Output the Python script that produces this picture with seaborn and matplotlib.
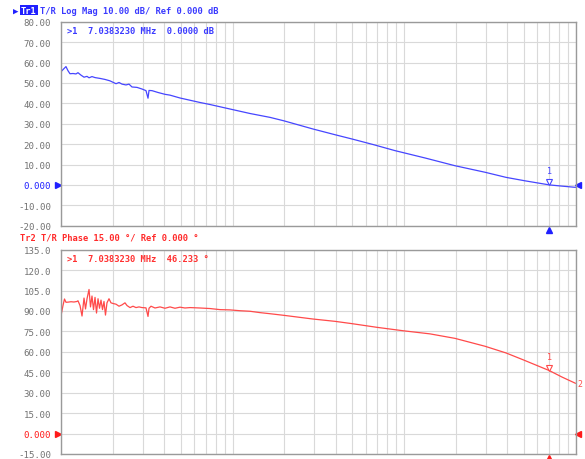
import numpy as np
import pandas as pd
import seaborn as sns
import matplotlib
matplotlib.use("Agg")
from matplotlib import pyplot as plt
from matplotlib.transforms import offset_copy

# ============================================================
# DATA (frequency in kHz)
# ============================================================
mag_freq_khz = [10.0, 10.27, 10.69, 10.98, 11.28, 11.75, 12.23, 12.56, 13.08, 13.62,
                14.18, 14.57, 15.16, 15.79, 16.88, 18.05, 19.31, 20.10, 20.93, 21.79,
                22.69, 23.93, 24.92, 25.94, 27.75, 29.67, 31.30, 32.16, 32.60, 33.94,
                36.79, 40.41, 43.21, 49.42, 56.52, 64.65, 73.94, 96.7, 126.5, 165.5,
                199.6, 294.7, 396.0, 497.6, 659.6, 886.1, 1326, 1983, 2968, 3933,
                5077, 7038.3, 8342, 10000]
mag_db = [55.5, 56.5, 58.0, 56.0, 54.5, 54.6, 54.4, 55.0, 53.8, 52.8,
          53.2, 52.5, 53.1, 52.6, 52.2, 51.7, 51.0, 50.3, 49.6, 50.2,
          49.4, 49.0, 49.4, 48.0, 47.8, 47.0, 46.2, 42.5, 46.3, 46.2,
          45.3, 44.4, 44.0, 42.6, 41.5, 40.4, 39.4, 37.2, 35.0, 33.1,
          31.4, 27.4, 24.6, 22.5, 19.8, 16.8, 13.2, 9.4, 6.2, 3.7,
          2.0, 0.0, -0.6, -1.2]

phase_freq_khz = [10.0, 10.27, 10.48, 10.69, 10.98, 11.44, 11.90, 12.40, 12.56, 12.91,
                  13.26, 13.62, 13.90, 14.18, 14.57, 14.86, 15.16, 15.47, 15.79, 16.11,
                  16.44, 16.77, 17.11, 17.46, 17.81, 18.17, 18.54, 19.05, 19.56, 20.10,
                  20.93, 21.79, 22.69, 23.61, 24.26, 25.26, 26.29, 27.37, 28.50, 29.67,
                  31.30, 32.16, 32.60, 33.49, 35.33, 37.79, 40.41, 43.21, 46.20, 49.42,
                  52.84, 56.52, 64.65, 73.94, 84.56, 96.7, 110.6, 126.5, 144.7, 165.5,
                  199.6, 294.7, 396.0, 497.6, 695.9, 986.8, 1418, 1983, 2968, 3933,
                  4943, 7038.3, 8342, 10000]
phase_deg = [86.5, 94.0, 98.8, 96.4, 96.5, 96.8, 96.6, 97.0, 97.5, 94.0,
             86.3, 99.5, 91.5, 99.0, 105.8, 93.0, 101.0, 91.0, 100.0, 88.5,
             99.0, 92.0, 98.0, 91.0, 97.0, 87.0, 96.0, 99.0, 96.0, 95.5,
             95.0, 93.5, 94.5, 96.0, 94.0, 92.5, 93.5, 92.5, 93.0, 92.5,
             92.3, 86.0, 92.0, 93.5, 92.2, 93.0, 92.0, 93.0, 92.0, 92.8,
             92.2, 92.5, 92.2, 91.8, 91.0, 90.8, 90.2, 89.8, 88.8, 88.0,
             86.8, 84.1, 82.4, 80.7, 78.0, 75.5, 73.2, 69.9, 64.1, 59.2,
             54.2, 46.233, 41.5, 36.9]

mag_ticks = [80, 70, 60, 50, 40, 30, 20, 10, 0, -10, -20]
mag_labels = ["80.00", "70.00", "60.00", "50.00", "40.00", "30.00", "20.00",
              "10.00", "0.000", "-10.00", "-20.00"]
phase_ticks = [135, 120, 105, 90, 75, 60, 45, 30, 15, 0, -15]
phase_labels = ["135.0", "120.0", "105.0", "90.00", "75.00", "60.00", "45.00",
                "30.00", "15.00", "0.000", "-15.00"]

marker_khz = 7038.3
marker_mag = 0.0
marker_phase = 46.233

BLUE = "#4646ff"
RED = "#ff4a4a"
GRID = "#d9d9d9"
SPINE = "#9a9a9a"
TICK = "#737373"

sns.set_style("white")
plt.rcParams['font.family'] = ['DejaVu Sans Mono', 'DejaVu Sans']

mag_df = pd.DataFrame({"freq": mag_freq_khz, "value": mag_db})
phase_df = pd.DataFrame({"freq": phase_freq_khz, "value": phase_deg})

fig = plt.figure(figsize=(5.85, 4.6), dpi=100)
ax1 = fig.add_axes([61 / 585, 1 - 226.7 / 460, 514.5 / 585, 204 / 460])
ax2 = fig.add_axes([61 / 585, 1 - 455 / 460, 514.5 / 585, 204.3 / 460])


def style_axis(ax, ticks, labels, ref_color, lo, hi):
    ax.set_xscale("log")
    ax.set_xlim(10, 10000)
    ax.set_ylim(lo, hi)
    ax.set_yticks(ticks)
    ax.set_yticklabels(labels)
    ax.set_xlabel("")
    ax.set_ylabel("")
    ax.tick_params(axis="both", which="both", length=0)
    ax.tick_params(axis="y", pad=7, labelsize=6.6, labelcolor=TICK)
    ax.tick_params(axis="x", labelbottom=False)
    for lab in ax.get_yticklabels():
        if lab.get_text() == "0.000":
            lab.set_color(ref_color)
    ax.grid(True, which="both", color=GRID, linewidth=0.8)
    ax.set_axisbelow(True)
    for sp in ax.spines.values():
        sp.set_color(SPINE)
        sp.set_linewidth(1.0)
    # reference level triangles and marker stimulus triangle
    tr = ax.get_yaxis_transform()
    ax.plot([-0.006], [0], marker=">", color=ref_color, markersize=5,
            transform=tr, clip_on=False)
    ax.plot([1.004], [0], marker="<", color=ref_color, markersize=5,
            transform=tr, clip_on=False)
    ax.plot([marker_khz], [-0.022], marker="^", color=ref_color, markersize=5,
            transform=ax.get_xaxis_transform(), clip_on=False)


sns.lineplot(data=mag_df, x="freq", y="value", ax=ax1, color=BLUE, linewidth=0.9)
sns.lineplot(data=phase_df, x="freq", y="value", ax=ax2, color=RED, linewidth=0.9)

style_axis(ax1, mag_ticks, mag_labels, "#2020ff", -20, 80)
style_axis(ax2, phase_ticks, phase_labels, "#ff1a1a", -15, 135)

# marker 1 symbols on traces
for ax, val, col in [(ax1, marker_mag, BLUE), (ax2, marker_phase, RED)]:
    ax.plot([marker_khz], [val], marker="v", markersize=5, markerfacecolor="white",
            markeredgecolor=col, markeredgewidth=0.8,
            transform=offset_copy(ax.transData, fig=fig, x=0, y=2.2, units="points"))
    ax.annotate("1", xy=(marker_khz, val), xytext=(0, 7), textcoords="offset points",
                ha="center", va="bottom", fontsize=6, color=col)

ax2.annotate("2", xy=(10000, phase_deg[-1]), xytext=(1.5, 0), textcoords="offset points",
             ha="left", va="center", fontsize=6, color=RED, annotation_clip=False)

# marker readouts
ax1.annotate(">1  7.0383230 MHz  0.0000 dB", xy=(0, 1), xycoords="axes fraction",
             xytext=(4, -6), textcoords="offset points", ha="left", va="center",
             fontsize=6.3, fontweight="bold", color="#3a3aff")
ax2.annotate(">1  7.0383230 MHz  46.233 °", xy=(0, 1), xycoords="axes fraction",
             xytext=(4, -6), textcoords="offset points", ha="left", va="center",
             fontsize=6.3, fontweight="bold", color="#ff3030")

# trace headers
fig.text(13 / 585, 1 - 11 / 460, "▶", fontsize=6.5, color="#2020ff", ha="left", va="center")
fig.text(21 / 585, 1 - 11 / 460, "Tr1", fontsize=6.3, fontweight="bold", color="white",
         ha="left", va="center",
         bbox=dict(boxstyle="square,pad=0.1", facecolor="#2020ff", edgecolor="none"))
fig.text(40 / 585, 1 - 11 / 460, "T/R Log Mag 10.00 dB/ Ref 0.000 dB", fontsize=6.3,
         fontweight="bold", color="#3a3aff", ha="left", va="center")
fig.text(20 / 585, 1 - 238.5 / 460, "Tr2 T/R Phase 15.00 °/ Ref 0.000 °", fontsize=6.3,
         fontweight="bold", color="#ff2a2a", ha="left", va="center")

fig.savefig("out.png", dpi=100)
